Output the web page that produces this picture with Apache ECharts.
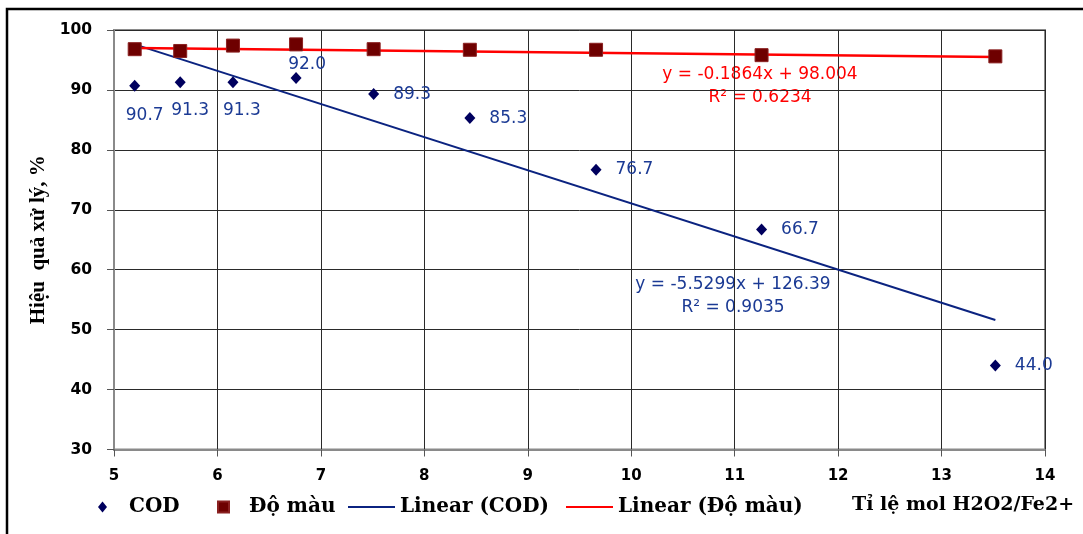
<!DOCTYPE html>
<html>
<head>
<meta charset="utf-8">
<script src="https://cdn.jsdelivr.net/npm/echarts@6/dist/echarts.min.js"></script>
<style>
  html, body { margin: 0; padding: 0; background: #fff; }
  #chart { width: 1083px; height: 534px; }
</style>
</head>
<body>
<div id="chart"></div>
<script>
// ti le mol H2O2/Fe2+
var xRatio = [5.2, 5.64, 6.15, 6.76, 7.51, 8.44, 9.66, 11.26, 13.52]
var codEff = [90.7, 91.3, 91.3, 92.0, 89.3, 85.3, 76.7, 66.7, 44.0]
var colorEff = [96.8, 96.5, 97.4, 97.6, 96.8, 96.7, 96.7, 95.8, 95.6]

// trendline end points
var codTrendX = [5.2, 13.52]
var codTrendY = [97.6, 51.6]
var colorTrendX = [5.2, 13.52]
var colorTrendY = [97.0, 95.5]

var codEq = ['y = -5.5299x + 126.39', 'R² = 0.9035']
var colorEq = ['y = -0.1864x + 98.004', 'R² = 0.6234']

var xTicks = [5, 6, 7, 8, 9, 10, 11, 12, 13, 14]
var yTicks = [30, 40, 50, 60, 70, 80, 90, 100]

// where each COD label sits
var codLabelPlace = [
  { position: 'inside', offset: [10, 30] },
  { position: 'inside', offset: [10, 28] },
  { position: 'inside', offset: [9, 28] },
  { position: 'inside', offset: [11, -13] },
  { position: 'right', distance: 14 },
  { position: 'right', distance: 14 },
  { position: 'right', distance: 14 },
  { position: 'right', distance: 14 },
  { position: 'right', distance: 14 }
]

function pairs(xs, ys) {
  return xs.map(function (x, i) { return [x, ys[i]] })
}

var codData = xRatio.map(function (x, i) {
  return { value: [x, codEff[i]], label: codLabelPlace[i] }
})

var chart = echarts.init(document.getElementById('chart'))

var legendText = { fontFamily: 'DejaVu Serif', fontWeight: 'bold', fontSize: 20, color: '#000' }
function legendAt(name, left, opts) {
  return Object.assign({
    orient: 'horizontal',
    padding: 0,
    top: 497,
    selectedMode: false,
    textStyle: legendText,
    data: [name],
    left: left
  }, opts)
}

chart.setOption({
  animation: false,
  backgroundColor: '#fff',
  grid: {
    left: 114,
    top: 30,
    right: 38,
    bottom: 84.5,
    show: true,
    borderColor: '#8a8a8a',
    borderWidth: 2
  },
  xAxis: {
    type: 'value',
    min: xTicks[0],
    max: xTicks[xTicks.length - 1],
    interval: 1,
    axisLine: { show: true, lineStyle: { color: '#8a8a8a', width: 2 } },
    axisTick: { show: true, length: 7, lineStyle: { color: '#555' } },
    axisLabel: {
      margin: 19,
      color: '#000',
      fontFamily: 'DejaVu Sans',
      fontWeight: 'bold',
      fontSize: 15
    },
    splitLine: { show: true, lineStyle: { color: '#2a2a2a', width: 1 } }
  },
  yAxis: {
    type: 'value',
    min: yTicks[0],
    max: yTicks[yTicks.length - 1],
    interval: 10,
    name: 'Hiệu  quả xử lý, %',
    nameLocation: 'middle',
    nameGap: 61,
    nameRotate: 90,
    nameTextStyle: {
      fontFamily: 'Liberation Serif',
      fontWeight: 'bold',
      fontSize: 21,
      color: '#000'
    },
    axisLine: { show: true, lineStyle: { color: '#8a8a8a', width: 2 } },
    axisTick: { show: true, length: 7, lineStyle: { color: '#555' } },
    axisLabel: {
      margin: 22,
      color: '#000',
      fontFamily: 'DejaVu Sans',
      fontWeight: 'bold',
      fontSize: 15.5
    },
    splitLine: { show: true, lineStyle: { color: '#2a2a2a', width: 1 } }
  },
  legend: [
    legendAt('COD', 98, { icon: 'diamond', itemWidth: 9, itemHeight: 11,
      textStyle: Object.assign({}, legendText, { padding: [0, 0, 0, 17] }) }),
    legendAt('Độ màu', 217, { icon: 'rect', itemWidth: 11, itemHeight: 11,
      textStyle: Object.assign({}, legendText, { padding: [0, 0, 0, 15] }) }),
    legendAt('Linear (COD)', 348, { icon: 'rect', itemWidth: 47, itemHeight: 2 }),
    legendAt('Linear (Độ màu)', 566, { icon: 'rect', itemWidth: 47, itemHeight: 2 })
  ],
  series: [
    {
      name: 'Linear (COD)',
      type: 'line',
      data: pairs(codTrendX, codTrendY),
      symbol: 'none',
      color: '#0b2380',
      lineStyle: { color: '#0b2380', width: 2 },
      z: 2
    },
    {
      name: 'Linear (Độ màu)',
      type: 'line',
      data: pairs(colorTrendX, colorTrendY),
      symbol: 'none',
      color: '#ff0000',
      lineStyle: { color: '#ff0000', width: 2.5 },
      z: 2
    },
    {
      name: 'COD',
      type: 'scatter',
      data: codData,
      symbol: 'diamond',
      symbolSize: [11, 12],
      itemStyle: { color: '#00005e', opacity: 1 },
      label: {
        show: true,
        color: '#1b3a94',
        fontFamily: 'DejaVu Sans',
        fontSize: 17,
        formatter: function (p) { return p.value[1].toFixed(1) }
      },
      z: 3
    },
    {
      name: 'Độ màu',
      type: 'scatter',
      data: pairs(xRatio, colorEff),
      symbol: 'rect',
      symbolSize: 13,
      itemStyle: { color: '#6e0000', borderColor: '#8a2020', borderWidth: 1, opacity: 1 },
      z: 3
    }
  ],
  graphic: [
    {
      type: 'rect',
      silent: true,
      shape: { x: 7, y: 9, width: 1200, height: 800 },
      style: { fill: 'none', stroke: '#000', lineWidth: 2.5 }
    },
    {
      type: 'text',
      x: 852,
      y: 505,
      style: {
        text: 'Tỉ lệ mol H2O2/Fe2+',
        fill: '#000',
        font: 'bold 19px "DejaVu Serif"',
        verticalAlign: 'middle'
      }
    },
    {
      type: 'text',
      x: 760,
      y: 86.5,
      style: {
        text: colorEq.join('\n'),
        fill: '#ff0000',
        font: '17px "DejaVu Sans"',
        lineHeight: 23,
        align: 'center',
        verticalAlign: 'middle'
      }
    },
    {
      type: 'text',
      x: 733,
      y: 296.5,
      style: {
        text: codEq.join('\n'),
        fill: '#1b3a94',
        font: '17px "DejaVu Sans"',
        lineHeight: 23,
        align: 'center',
        verticalAlign: 'middle'
      }
    }
  ]
})
</script>
</body>
</html>
